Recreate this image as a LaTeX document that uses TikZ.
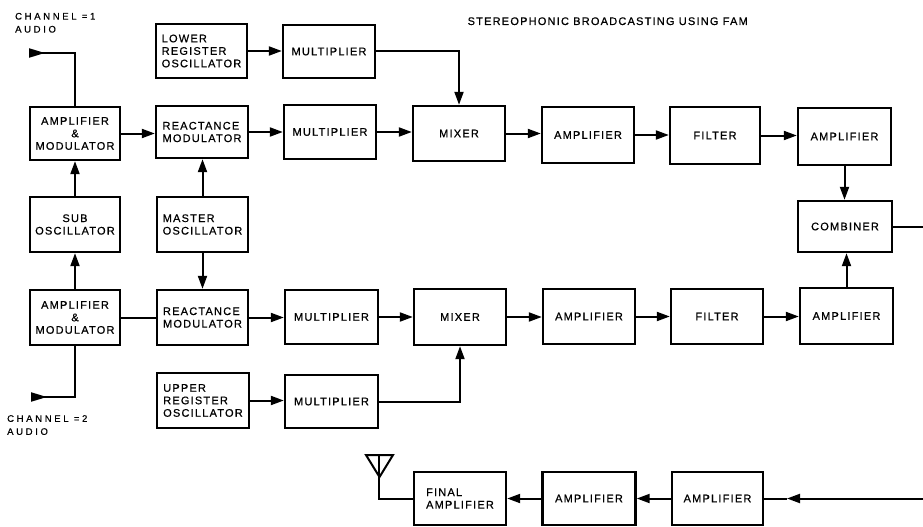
\documentclass[tikz,border=0pt]{standalone}
\usepackage{fontspec}
\setmainfont{Liberation Sans}
\newfontfamily\boxfont[LetterSpace=11,FakeBold=0.6]{Liberation Sans}
\newfontfamily\chfont[LetterSpace=28,FakeBold=0.5]{Liberation Sans}
\usetikzlibrary{arrows.meta}
\begin{document}
\begin{tikzpicture}[x=1pt,y=-1pt,
  blk/.style={draw, line width=2.4pt, minimum width=92pt, minimum height=54pt, inner sep=1pt,
              font=\boxfont\fontsize{11}{12.5}\selectfont, align=center},
  lblk/.style={blk, align=left},
  conn/.style={line width=2pt},
  arr/.style={conn, -{Triangle[length=13pt,width=9pt]}},
  inarr/.style={conn, -{Triangle[length=16pt,width=9pt]}},
  lbl/.style={font=\chfont\fontsize{9.5}{13}\selectfont, align=left, inner sep=0pt},
  ttl/.style={font=\boxfont\fontsize{11}{13}\selectfont, inner sep=0pt}]
\useasboundingbox (0,0) rectangle (923,527);

% boxes
\node[lblk, minimum width=91pt] (lro) at (201.5,51) {LOWER\\REGISTER\\OSCILLATOR};
\node[blk, minimum height=53pt] (mulA) at (329,51.5) {MULTIPLIER};
\node[blk, minimum width=90pt, minimum height=53pt] (am1) at (75,133.5) {AMPLIFIER\\\&\\MODULATOR};
\node[lblk, minimum height=52pt] (rm1) at (202,132) {REACTANCE\\MODULATOR};
\node[blk] (mulB) at (330,132) {MULTIPLIER};
\node[blk, minimum height=55pt] (mix1) at (459,133.5) {MIXER};
\node[blk, minimum height=56pt] (amp1) at (588,135) {AMPLIFIER};
\node[blk, minimum width=90pt, minimum height=57pt] (fil1) at (715,135.5) {FILTER};
\node[blk, minimum width=93pt, minimum height=57pt] (ampr1) at (844.5,136.5) {AMPLIFIER};
\node[blk, minimum width=94pt, minimum height=51pt] (comb) at (845,226.5) {COMBINER};
\node[blk, minimum width=90pt, minimum height=55pt] (sub) at (75,224.5) {SUB\\OSCILLATOR};
\node[lblk, minimum width=91pt, minimum height=55pt] (mo) at (202.5,224.5) {MASTER\\OSCILLATOR};
\node[blk, minimum width=90pt, minimum height=55pt] (am2) at (75,317.5) {AMPLIFIER\\\&\\MODULATOR};
\node[lblk, minimum width=91pt, minimum height=55pt] (rm2) at (202.5,317.5) {REACTANCE\\MODULATOR};
\node[blk, minimum width=93pt] (mulC) at (331.5,317) {MULTIPLIER};
\node[blk, minimum height=56pt] (mix2) at (460,317) {MIXER};
\node[blk, minimum height=55pt] (amp2) at (589,316.5) {AMPLIFIER};
\node[blk, minimum height=55pt] (fil2) at (717,316.5) {FILTER};
\node[blk, minimum width=93pt, minimum height=56pt] (ampr2) at (846.5,316) {AMPLIFIER};
\node[lblk, minimum height=55pt] (uro) at (203,400.5) {UPPER\\REGISTER\\OSCILLATOR};
\node[blk, minimum width=93pt, minimum height=53pt] (mulD) at (331.5,401.5) {MULTIPLIER};
\node[lblk, minimum height=53pt] (famp) at (460,498.5) {FINAL\\AMPLIFIER};
\node[blk, minimum width=93pt, minimum height=53pt] (ampb1) at (589,498.5) {AMPLIFIER};
\node[blk, minimum width=91pt, minimum height=53pt] (ampb2) at (717.5,498.5) {AMPLIFIER};

% texts
\node[ttl, anchor=base east] (title) at (748,25) {STEREOPHONIC BROADCASTING USING FAM};
\node[lbl, anchor=north west] (ch1) at (15,12.7) {CHANNEL =1\\AUDIO};
\node[lbl, anchor=north west] (ch2) at (7,415) {CHANNEL =2\\AUDIO};

% channel inputs
\coordinate (c1a) at (29,53);
\coordinate (c1b) at (45,53);
\draw[conn] (c1a) -| (am1.north);
\draw[inarr] (c1a) -- (c1b);
\coordinate (c2a) at (31,397);
\coordinate (c2b) at (47,397);
\draw[conn] (c2a) -| (am2.south);
\draw[inarr] (c2a) -- (c2b);

% verticals left
\draw[arr] (sub.north) -- (am1.south);
\draw[arr] (am2.north) -- (sub.south);
\draw[arr] (mo.north) -- (rm1.south -| mo.north);
\draw[arr] (mo.south) -- (rm2.north -| mo.south);

% upper chain
\draw[arr] (am1.east) -- (rm1.west |- am1.east);
\draw[arr] (rm1.east) -- (mulB.west |- rm1.east);
\draw[arr] (mulB.east) -- (mix1.west |- mulB.east);
\draw[arr] (mix1.east) -- (amp1.west |- mix1.east);
\draw[arr] (amp1.east) -- (fil1.west |- amp1.east);
\draw[arr] (fil1.east) -- (ampr1.west |- fil1.east);
\draw[arr] (ampr1.south) -- (comb.north -| ampr1.south);
\draw[arr] (lro.east) -- (mulA.west |- lro.east);
\draw[arr] (mulA.east) -| (mix1.north);

% lower chain
\draw[conn] (am2.east) -- (rm2.west |- am2.east);
\draw[arr] (rm2.east) -- (mulC.west |- rm2.east);
\draw[arr] (mulC.east) -- (mix2.west |- mulC.east);
\draw[arr] (mix2.east) -- (amp2.west |- mix2.east);
\draw[arr] (amp2.east) -- (fil2.west |- amp2.east);
\draw[arr] (fil2.east) -- (ampr2.west |- fil2.east);
\draw[arr] (ampr2.north) -- (comb.south -| ampr2.north);
\draw[arr] (uro.east) -- (mulD.west |- uro.east);
\draw[arr] (mulD.east) -| (mix2.south);

% combiner output and transmitter chain
\coordinate (cout) at (923,226.5);
\draw[conn] (comb.east) -- (cout);
\coordinate (rin) at (923,498.5);
\coordinate (amid) at (787,498.5);
\draw[arr] (rin) -- (amid);
\draw[conn] (amid) -- (ampb2.east);
\draw[arr] (ampb2.west) -- (ampb1.east);
\draw[arr] (ampb1.west) -- (famp.east);

% antenna
\coordinate (antb) at (379,498.5);
\coordinate (antt) at (379,455);
\draw[conn] (famp.west) -- (antb) -- (antt);
\draw[conn, line join=miter] (366,455) -- (393,455) -- (379.5,477) -- cycle;
\end{tikzpicture}
\end{document}
